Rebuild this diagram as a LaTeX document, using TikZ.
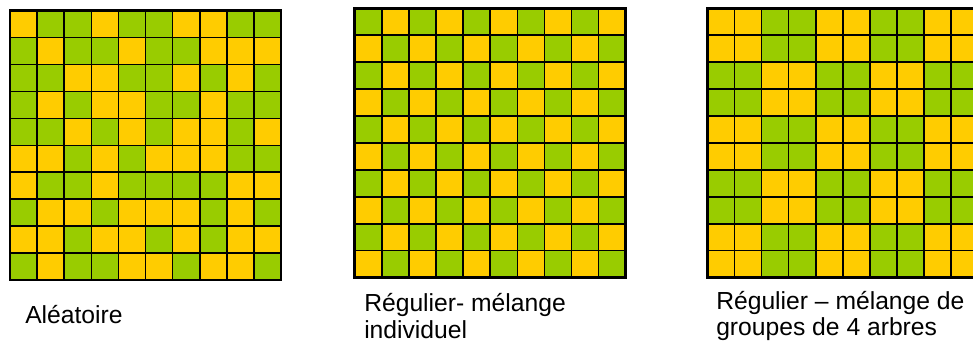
\documentclass[tikz,border=0pt]{standalone}
\usepackage{fontspec}
\setmainfont{Liberation Sans}
\usepackage{tikz}
\usetikzlibrary{positioning}
\definecolor{plotyellow}{HTML}{FFCC00}
\definecolor{plotgreen}{HTML}{99CC00}
\colorlet{cellY}{plotyellow}
\colorlet{cellG}{plotgreen}
\newcommand{\cellw}{27.1}
\newcommand{\cellh}{26.93}

\begin{document}
\begin{tikzpicture}[x=0.75pt, y=-0.75pt,
  gridline/.style={black, line width=1.2pt},
  gridframe/.style={black, line width=1.9pt},
  caption/.style={anchor=north west, inner sep=0pt, align=left,
    font=\fontsize{18.5}{19.6}\selectfont}]

  \useasboundingbox (0,0) rectangle (973,343);
  \clip (0,0) rectangle (973,343);

  % --- plot 1: random mixture ---
  \begin{scope}[shift={(10,10.7)}]
    \foreach \row [count=\r] in {
        {Y,G,G,Y,G,G,Y,Y,G,G},
        {G,Y,G,G,Y,G,G,Y,Y,Y},
        {G,G,Y,Y,G,G,Y,G,Y,G},
        {G,Y,G,Y,Y,G,G,Y,G,G},
        {G,G,Y,G,Y,G,Y,Y,G,Y},
        {Y,Y,G,Y,G,Y,Y,Y,G,G},
        {Y,G,G,Y,G,G,G,G,Y,Y},
        {G,Y,Y,G,Y,Y,Y,G,Y,G},
        {Y,Y,G,Y,Y,G,Y,G,Y,Y},
        {G,Y,G,G,Y,Y,G,Y,Y,G}}
      \foreach \c [count=\k] in \row
        \fill[cell\c] ({(\k-1)*\cellw},{(\r-1)*\cellh}) rectangle ++(\cellw,\cellh);
    \foreach \i in {0,...,10} {
      \draw[gridline] ({\i*\cellw},0) -- ({\i*\cellw},{10*\cellh});
      \draw[gridline] (0,{\i*\cellh}) -- ({10*\cellw},{\i*\cellh});
    }
    \draw[gridframe] (0,0) rectangle ({10*\cellw},{10*\cellh});
  \end{scope}

  % --- plot 2: tree by tree ---
  \begin{scope}[shift={(354.7,8.3)}]
    \foreach \r in {1,...,10}
      \foreach \k in {1,...,10} {
        \pgfmathtruncatemacro{\odd}{mod(\r+\k,2)}
        \ifnum\odd=0 \def\c{G}\else \def\c{Y}\fi
        \fill[cell\c] ({(\k-1)*\cellw},{(\r-1)*\cellh}) rectangle ++(\cellw,\cellh);
      }
    \foreach \i in {0,...,10} {
      \draw[gridline] ({\i*\cellw},0) -- ({\i*\cellw},{10*\cellh});
      \draw[gridline] (0,{\i*\cellh}) -- ({10*\cellw},{\i*\cellh});
    }
    \draw[gridframe] (0,0) rectangle ({10*\cellw},{10*\cellh});
  \end{scope}

  % --- plot 3: groups of 4 trees ---
  \begin{scope}[shift={(707.3,8.3)}]
    \foreach \r in {1,...,10}
      \foreach \k in {1,...,10} {
        \pgfmathtruncatemacro{\blk}{mod(int((\r-1)/2)+int((\k-1)/2),2)}
        \ifnum\blk=0 \def\c{Y}\else \def\c{G}\fi
        \fill[cell\c] ({(\k-1)*\cellw},{(\r-1)*\cellh}) rectangle ++(\cellw,\cellh);
      }
    \foreach \i in {0,...,10} {
      \draw[gridline] ({\i*\cellw},0) -- ({\i*\cellw},{10*\cellh});
      \draw[gridline] (0,{\i*\cellh}) -- ({10*\cellw},{\i*\cellh});
    }
    \draw[gridframe] (0,0) rectangle ({10*\cellw},{10*\cellh});
  \end{scope}

  % --- captions ---
  \node[caption] (random) at (25,304.7) {Aléatoire};
  \node[caption] (single) at (364,293.5) {Régulier- mélange\\individuel};
  \node[caption] (groups) at (716,290.7) {Régulier – mélange de\\groupes de 4 arbres};

\end{tikzpicture}
\end{document}
